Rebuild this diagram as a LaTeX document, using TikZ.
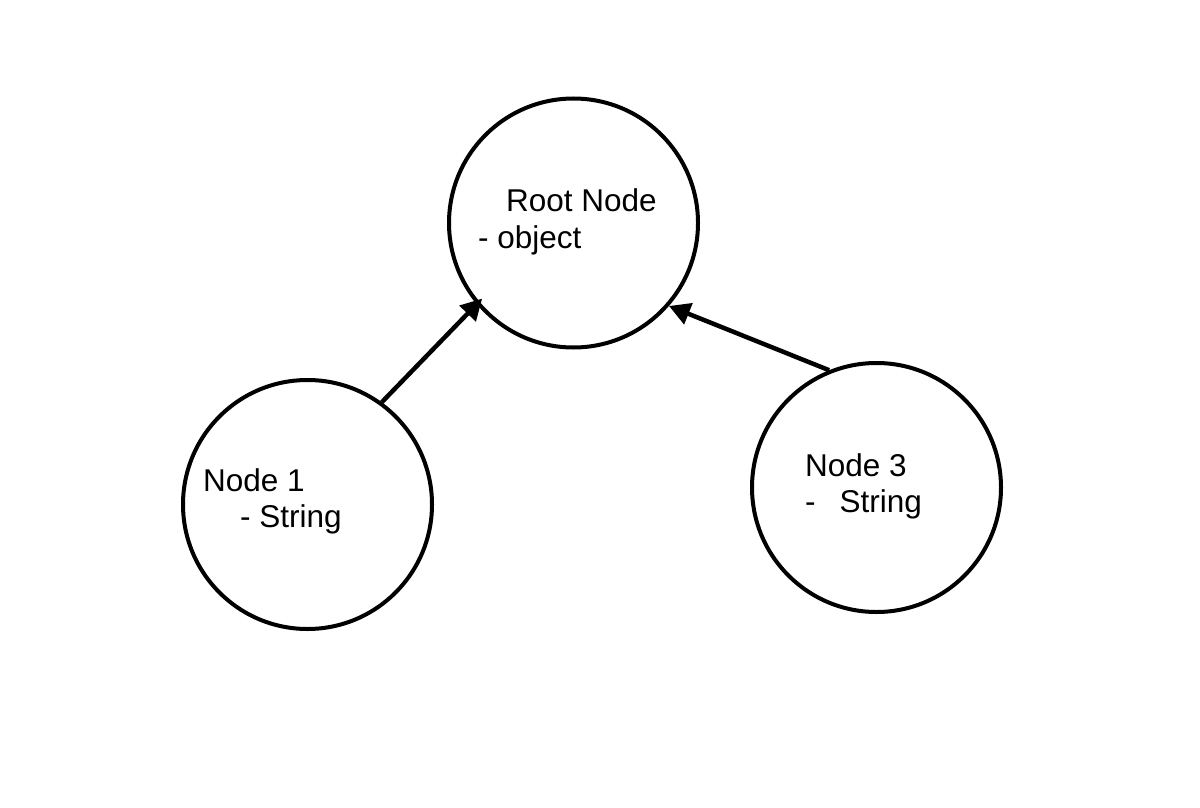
\documentclass[tikz,border=0pt]{standalone}
\usepackage{fontspec}
\setmainfont{Liberation Sans}
\usetikzlibrary{arrows.meta}
\begin{document}
\begin{tikzpicture}[x=1pt,y=-1pt,
  ball/.style={draw=black,line width=4pt,circle,minimum size=249pt,inner sep=0pt},
  lbl/.style={anchor=base west,inner sep=0pt,font=\fontsize{31.5}{36}\selectfont},
  link/.style={line width=4.5pt,-{Triangle[length=21pt,width=22pt]}}]
\useasboundingbox[fill=white] (0,0) rectangle (1200,808);
\node[ball] (root) at (573.5,223) {};
\node[ball] (n1) at (307.5,504.5) {};
\node[ball] (n3) at (876.5,487.5) {};
\node[lbl] (rt1) at (506,211.5) {Root Node};
\node[lbl] (rt2) at (478,248) {- object};
\node[lbl] (a1) at (203,491) {Node 1};
\node[lbl] (a2) at (240,527) {- String};
\node[lbl] (b1) at (805,476.5) {Node 3};
\node[lbl] (b2) at (805,512) {-\hspace{24pt}String};
\draw[link,shorten >=-8pt] (n1.54) -- (root.220);
\draw[link] (n3.112) -- (root.319.5);
\end{tikzpicture}
\end{document}
